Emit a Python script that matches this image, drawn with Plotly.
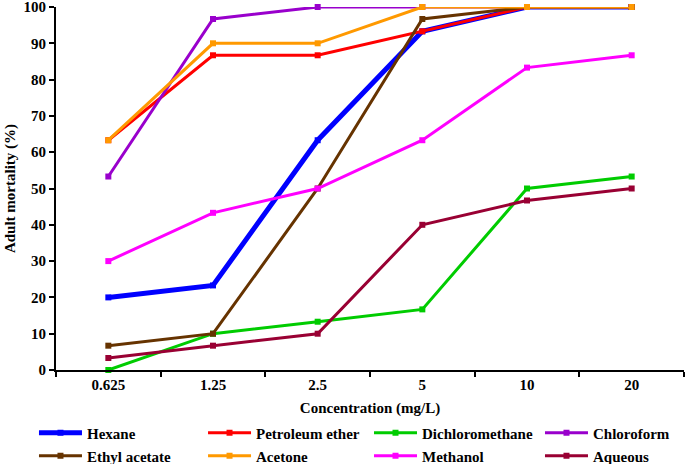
import plotly.graph_objects as go

concentrations = ["0.625", "1.25", "2.5", "5", "10", "20"]
hexane = [20, 23.3, 63.3, 93.3, 100, 100]
petroleum_ether = [63.3, 86.7, 86.7, 93.3, 100, 100]
dichloromethane = [0, 10, 13.3, 16.7, 50, 53.3]
chloroform = [53.3, 96.7, 100, 100, 100, 100]
ethyl_acetate = [6.7, 10, 50, 96.7, 100, 100]
acetone = [63.3, 90, 90, 100, 100, 100]
methanol = [30, 43.3, 50, 63.3, 83.3, 86.7]
aqueous = [3.3, 6.7, 10, 40, 46.7, 50]

series = [
    ("Hexane", hexane, "#0000FF", 5),
    ("Petroleum ether", petroleum_ether, "#FF0000", 3),
    ("Dichloromethane", dichloromethane, "#00CC00", 3),
    ("Chloroform", chloroform, "#9900CC", 3),
    ("Ethyl acetate", ethyl_acetate, "#663300", 3),
    ("Acetone", acetone, "#FF9900", 3),
    ("Methanol", methanol, "#FF00FF", 3),
    ("Aqueous", aqueous, "#990033", 3),
]

font = dict(family="Times New Roman, Liberation Serif, serif", size=15, color="black", weight="bold")

# legend grid positions (container coords): 4 columns x 2 rows
col_x = [0.0496, 0.2964, 0.5387, 0.7883]
row_y = [0.0668, 0.0172]

fig = go.Figure()
layout_legends = {}
for i, (name, vals, color, w) in enumerate(series):
    key = "legend" if i == 0 else f"legend{i + 1}"
    fig.add_trace(go.Scatter(
        x=concentrations, y=vals, name=name, mode="lines+markers",
        line=dict(color=color, width=w),
        marker=dict(symbol="square", size=6, color=color),
        cliponaxis=False, legend=key, showlegend=True,
    ))
    layout_legends[key] = dict(
        x=col_x[i % 4], y=row_y[i // 4], xref="container", yref="container",
        xanchor="left", yanchor="middle",
        orientation="h", font=font, bgcolor="rgba(0,0,0,0)", itemwidth=43,
        borderwidth=0,
    )

fig.update_layout(
    width=685, height=464, showlegend=True,
    margin=dict(l=56, r=1, t=7, b=94),
    paper_bgcolor="white", plot_bgcolor="white",
    font=font,
    xaxis=dict(
        type="category", range=[-0.5, 5.5], showline=True, linecolor="black", linewidth=2,
        ticks="outside", tickson="boundaries", ticklen=5, tickwidth=1.5, tickcolor="black",
        showgrid=False, zeroline=False, tickfont=font, automargin=False,
        title=dict(text="Concentration (mg/L)", font=font, standoff=10),
    ),
    yaxis=dict(
        range=[0, 100], dtick=10, showline=True, linecolor="black", linewidth=2,
        ticks="outside", ticklen=5, tickwidth=1.5, tickcolor="black",
        showgrid=False, zeroline=False, tickfont=font, automargin=False,
        ticklabeloverflow="allow",
        title=dict(text="Adult mortality (%)", font=font, standoff=4),
    ),
    **layout_legends,
)

fig.write_html("out.html", config={"displayModeBar": False},
               post_script="document.body.style.margin='0';")
